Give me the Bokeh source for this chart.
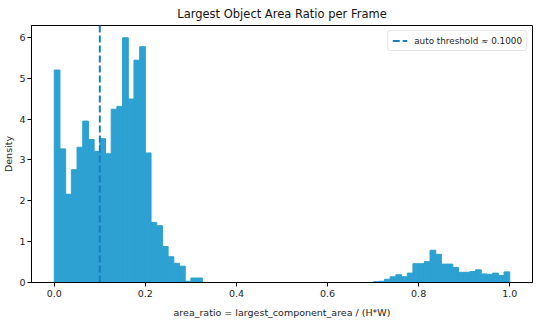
import numpy as np
from bokeh.plotting import figure
from bokeh.models import Range1d, FixedTicker, Legend, LegendItem
from bokeh.embed import file_html
from bokeh.resources import INLINE

# ---- data ----
n_bins = 80
bin_lo, bin_hi = 0.0, 1.0
density = [
    5.20, 3.27, 2.16, 2.76, 3.31, 3.95, 3.50, 3.21, 3.52, 3.15,
    4.24, 4.31, 5.99, 4.49, 5.44, 5.77, 3.17, 1.47, 1.39, 0.88,
    0.63, 0.47, 0.40, 0.03, 0.11, 0.11, 0.00, 0.00, 0.00, 0.00,
    0.00, 0.00, 0.00, 0.00, 0.00, 0.00, 0.00, 0.00, 0.00, 0.00,
    0.00, 0.00, 0.00, 0.00, 0.00, 0.00, 0.00, 0.00, 0.00, 0.00,
    0.00, 0.00, 0.00, 0.00, 0.00, 0.00, 0.02, 0.03, 0.08, 0.14,
    0.19, 0.14, 0.23, 0.46, 0.46, 0.51, 0.79, 0.69, 0.45, 0.45,
    0.37, 0.25, 0.25, 0.27, 0.31, 0.21, 0.20, 0.23, 0.17, 0.26,
]
threshold = 0.1
threshold_label = "auto threshold \u2248 0.1000"
x_ticks = [0.0, 0.2, 0.4, 0.6, 0.8, 1.0]
y_ticks = [0, 1, 2, 3, 4, 5, 6]
title_text = "Largest Object Area Ratio per Frame"
x_label = "area_ratio = largest_component_area / (H*W)"
y_label = "Density"

edges = np.linspace(bin_lo, bin_hi, n_bins + 1)
y_top = max(density) * 1.05

FONT = "DejaVu Sans"
BAR = "#2ca1d2"
LINE = "#1a7cc1"

p = figure(width=534, height=320, output_backend="svg", toolbar_location=None,
           x_range=Range1d(-0.05, 1.05), y_range=Range1d(0, y_top),
           title=title_text, min_border_left=25, min_border_right=2,
           min_border_top=0, min_border_bottom=0)

p.quad(left=edges[:-1], right=edges[1:], bottom=0, top=density,
       fill_color=BAR, line_color=BAR, line_width=1)

thr = p.line(x=[threshold, threshold], y=[0, y_top], line_color=LINE,
             line_width=2, line_dash="7 3")

legend = Legend(items=[LegendItem(label=threshold_label, renderers=[thr])],
                location="top_right")
legend.label_text_font = FONT
legend.label_text_font_size = "8.8px"
legend.label_text_color = "#222222"
legend.margin = 5
legend.padding = 4
legend.spacing = 0
legend.glyph_width = 15
legend.glyph_height = 11
legend.label_height = 11
legend.label_standoff = 7
legend.border_line_color = "#cccccc"
legend.border_line_width = 1
legend.border_radius = 3
legend.background_fill_alpha = 0.85
p.add_layout(legend)

p.title.text_font = FONT
p.title.text_font_size = "11.5px"
p.title.text_font_style = "normal"
p.title.text_color = "#111111"
p.title.align = "center"
p.title.standoff = 9

p.xgrid.visible = False
p.ygrid.visible = False
p.outline_line_color = "black"
p.outline_line_width = 1
p.outline_line_alpha = 1

p.xaxis.ticker = FixedTicker(ticks=x_ticks)
p.yaxis.ticker = FixedTicker(ticks=y_ticks)
p.xaxis.major_label_overrides = {t: f"{t:.1f}" for t in x_ticks}

for ax in (p.xaxis[0], p.yaxis[0]):
    ax.axis_line_color = "black"
    ax.major_tick_line_color = "black"
    ax.major_tick_out = 4
    ax.major_tick_in = 0
    ax.minor_tick_out = 0
    ax.minor_tick_in = 0
    ax.major_label_text_font = FONT
    ax.major_label_text_font_size = "9.5px"
    ax.major_label_text_color = "#222222"
    ax.axis_label_text_font = FONT
    ax.axis_label_text_font_size = "9.5px"
    ax.axis_label_text_font_style = "normal"
    ax.axis_label_text_color = "#222222"

p.xaxis.major_label_standoff = 3
p.xaxis.axis_label_standoff = 7
p.yaxis.major_label_standoff = 2
p.yaxis.axis_label_standoff = 2

p.xaxis.axis_label = x_label
p.yaxis.axis_label = y_label

open("out.html", "w").write(file_html(p, INLINE))
